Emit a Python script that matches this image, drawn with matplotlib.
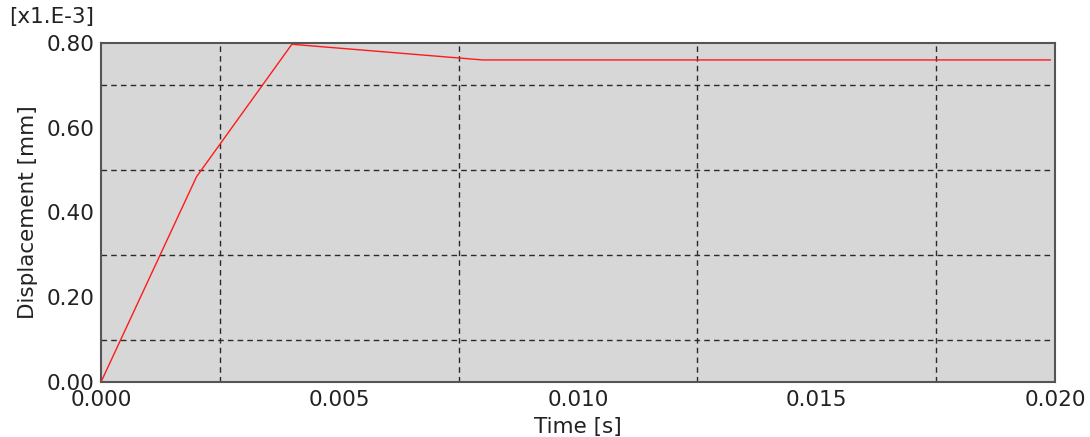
import numpy as np
import matplotlib.pyplot as plt
from matplotlib.ticker import FixedLocator

# displacement history (y in units of 1e-3 mm)
time_s = [0.0, 0.002, 0.004, 0.008, 0.0199]
disp = [0.0, 0.484, 0.797, 0.760, 0.760]

xticks = [0.000, 0.005, 0.010, 0.015, 0.020]
yticks = [0.00, 0.20, 0.40, 0.60, 0.80]
xgrid = [0.0025, 0.0075, 0.0125, 0.0175]
ygrid = [0.10, 0.30, 0.50, 0.70]

fs = 15.5
fig = plt.figure(figsize=(10.9, 4.37), dpi=100)
ax = fig.add_axes([0.0927, 0.126, 0.8753, 0.7756])
ax.set_facecolor('#d7d7d7')

ax.plot(time_s, disp, color='#ff1a1a', lw=1.0, zorder=3)

ax.set_xlim(0, 0.02)
ax.set_ylim(0, 0.8)
ax.set_xticks(xticks)
ax.set_xticklabels(['%.3f' % v for v in xticks])
ax.set_yticks(yticks)
ax.set_yticklabels(['%.2f' % v for v in yticks])
ax.xaxis.set_minor_locator(FixedLocator(xgrid))
ax.yaxis.set_minor_locator(FixedLocator(ygrid))
ax.grid(which='minor', color='#2a2a2a', ls=(0, (4, 3)), lw=1.0)
ax.tick_params(which='both', length=0, labelsize=fs, colors='#222222', pad=5)
ax.tick_params(axis='x', pad=6)

for s in ax.spines.values():
    s.set_color('#555555')
    s.set_linewidth(1.5)

ax.set_xlabel('Time [s]', fontsize=fs, color='#222222', labelpad=5)
ax.set_ylabel('Displacement [mm]', fontsize=fs, color='#222222', labelpad=6)
fig.text(0.008, 0.96, '[x1.E-3]', fontsize=fs, color='#222222', va='center')

fig.savefig('out.png', dpi=100)
